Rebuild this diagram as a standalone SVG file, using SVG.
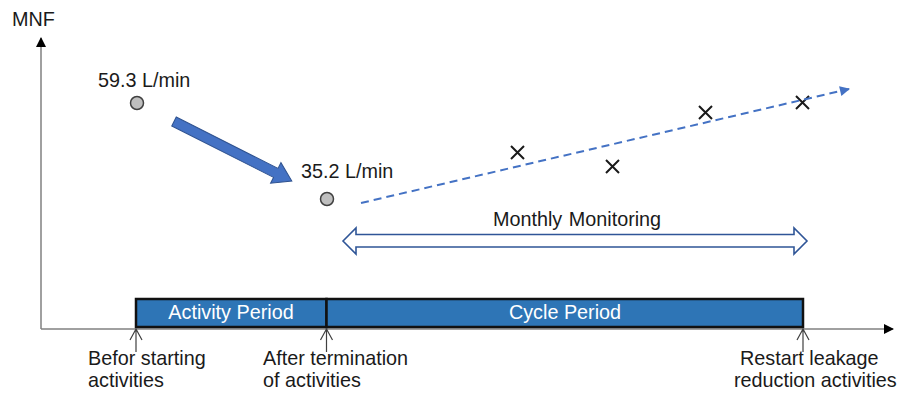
<svg xmlns="http://www.w3.org/2000/svg" width="904" height="396" viewBox="0 0 904 396">
  <style>
    text { font-family: "Liberation Sans", Arial, sans-serif; font-size: 19.8px; fill: #1a1a1a; }
    .axis { stroke: #808080; stroke-width: 1.5; fill: none; }
    .tick { stroke: #404040; stroke-width: 1.2; fill: none; }
    .dot { fill: #bfbfbf; stroke: #404040; stroke-width: 1.5; }
    .cross { stroke: #1a1a1a; stroke-width: 2; fill: none; }
    .bar { fill: #2e75b6; stroke: #111; stroke-width: 2.5; }
    .barText { fill: #ffffff; text-anchor: middle; }
  </style>
  <defs>
    <marker id="axisHead" viewBox="0 0 10 10" refX="9" refY="5" markerWidth="10" markerHeight="10" markerUnits="userSpaceOnUse" orient="auto">
      <path d="M0,0 L10,5 L0,10 Z" fill="#000"/>
    </marker>
    <marker id="trendHead" viewBox="0 0 10 10" refX="9" refY="5" markerWidth="12" markerHeight="10" markerUnits="userSpaceOnUse" orient="auto">
      <path d="M0,0 L10,5 L0,10 Z" fill="#4472c4"/>
    </marker>
  </defs>

  <!-- axes -->
  <g id="axes">
    <line class="axis" x1="41" y1="329" x2="41" y2="38" marker-end="url(#axisHead)"/>
    <line class="axis" x1="41" y1="329" x2="893" y2="329" marker-end="url(#axisHead)"/>
    <text x="12" y="26">MNF</text>
  </g>

  <!-- timeline bar -->
  <g id="activity-period">
    <rect class="bar" x="136" y="299" width="190.5" height="28"/>
    <text class="barText" x="231" y="319">Activity Period</text>
  </g>
  <g id="cycle-period">
    <rect class="bar" x="326.5" y="299" width="476.5" height="28"/>
    <text class="barText" x="565" y="319">Cycle Period</text>
  </g>

  <!-- measured points -->
  <g id="before-value">
    <text x="98" y="87">59.3 L/min</text>
    <circle class="dot" cx="137" cy="103" r="6.5"/>
  </g>
  <g id="after-value">
    <text x="301" y="178">35.2 L/min</text>
    <circle class="dot" cx="327" cy="199" r="6.5"/>
  </g>

  <!-- monthly samples -->
  <g id="samples">
    <path class="cross" d="M511,146 l13,13 M524,146 l-13,13"/>
    <path class="cross" d="M606,160 l13,13 M619,160 l-13,13"/>
    <path class="cross" d="M699,106 l13,13 M712,106 l-13,13"/>
    <path class="cross" d="M796,96 l13,13 M809,96 l-13,13"/>
  </g>

  <g id="monthly-monitoring">
    <text x="493" y="226" word-spacing="1">Monthly Monitoring</text>
    <polygon points="343,241 356,228 356,234.5 794,234.5 794,228 807,241 794,254 794,247 356,247 356,254" fill="#ffffff" stroke="#2f5597" stroke-width="1.6" stroke-linejoin="miter"/>
  </g>

  <!-- time markers -->
  <g id="start-marker">
    <text x="88" y="365">Befor starting</text>
    <text x="88" y="387">activities</text>
  </g>
  <g id="end-marker">
    <text x="263" y="365">After termination</text>
    <text x="263" y="387">of activities</text>
  </g>
  <g id="restart-marker">
    <text x="740" y="365">Restart leakage</text>
    <text x="734" y="387">reduction activities</text>
  </g>

  <!-- connectors -->
  <g id="connectors">
    <!-- reduction arrow -->
    <polygon points="0,-5 114,-5 114,-11.5 132,0 114,11.5 114,5 0,5" fill="#4472c4" stroke="#2f528f" stroke-width="1" transform="translate(174,121.5) rotate(26.8)"/>
    <!-- trend line -->
    <line x1="361" y1="203" x2="849" y2="89" stroke="#4472c4" stroke-width="2" stroke-dasharray="8,5" marker-end="url(#trendHead)"/>
    <!-- tick arrows under the bar -->
    <path class="tick" d="M136,352 V329 M130,340 L136,329 L142,340"/>
    <path class="tick" d="M326.5,352 V329 M320.5,340 L326.5,329 L332.5,340"/>
    <path class="tick" d="M803,352 V329 M797,340 L803,329 L809,340"/>
  </g>
</svg>
